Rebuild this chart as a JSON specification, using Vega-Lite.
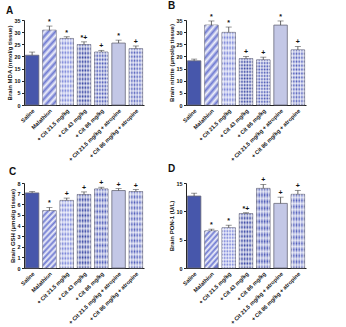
{
  "$schema": "https://vega.github.io/schema/vega-lite/v6.json",
  "padding": {"left": 6, "top": 0, "right": 2, "bottom": 0},
  "background": "white",
  "config": {
    "view": {"stroke": null},
    "font": "Liberation Sans",
    "axis": {"domainColor": "#222", "tickColor": "#222", "labelColor": "#111", "titleColor": "#111", "grid": false, "labelFontSize": 5.4, "titleFontSize": 6, "tickSize": 2.5, "labelPadding": 1.5, "titleFontWeight": "bold", "labelFontWeight": "bold"},
    "axisX": {"labelFontSize": 5.6},
    "title": {"fontSize": 10, "fontWeight": "bold", "anchor": "start", "color": "#111", "offset": 2},
    "range": {"category": ["#4757ab", "#6f7ad2", "#6f7bd6", "#2a399e", "#3f4db2", "#c3c7e6", "#4d5aba"]}
  },
  "datasets": {
    "t": [
      {"panel": "A", "group": "Saline", "mean": 20.5, "err": 1.3, "sig": ""},
      {"panel": "A", "group": "Malathion", "mean": 30.8, "err": 1.7, "sig": "*"},
      {"panel": "A", "group": "+ Cit 21.5 mg/kg", "mean": 27.4, "err": 0.7, "sig": "*"},
      {"panel": "A", "group": "+ Cit 43 mg/kg", "mean": 24.9, "err": 1.1, "sig": "*+"},
      {"panel": "A", "group": "+ Cit 86 mg/kg", "mean": 21.8, "err": 0.7, "sig": "+"},
      {"panel": "A", "group": "+ Cit 21.5 mg/kg + atropine", "mean": 25.5, "err": 1.2, "sig": "*"},
      {"panel": "A", "group": "+ Cit 86 mg/kg + atropine", "mean": 23.2, "err": 1.1, "sig": "+"},
      {"panel": "B", "group": "Saline", "mean": 18.2, "err": 0.7, "sig": ""},
      {"panel": "B", "group": "Malathion", "mean": 32.9, "err": 1.7, "sig": "*"},
      {"panel": "B", "group": "+ Cit 21.5 mg/kg", "mean": 29.9, "err": 2.2, "sig": "*"},
      {"panel": "B", "group": "+ Cit 43 mg/kg", "mean": 19.1, "err": 0.9, "sig": "+"},
      {"panel": "B", "group": "+ Cit 86 mg/kg", "mean": 18.6, "err": 1.1, "sig": "+"},
      {"panel": "B", "group": "+ Cit 21.5 mg/kg + atropine", "mean": 32.9, "err": 1.7, "sig": "*"},
      {"panel": "B", "group": "+ Cit 86 mg/kg + atropine", "mean": 22.7, "err": 1.4, "sig": "+"},
      {"panel": "C", "group": "Saline", "mean": 7.07, "err": 0.12, "sig": ""},
      {"panel": "C", "group": "Malathion", "mean": 5.4, "err": 0.3, "sig": "*"},
      {"panel": "C", "group": "+ Cit 21.5 mg/kg", "mean": 6.36, "err": 0.22, "sig": "+"},
      {"panel": "C", "group": "+ Cit 43 mg/kg", "mean": 6.92, "err": 0.24, "sig": "+"},
      {"panel": "C", "group": "+ Cit 86 mg/kg", "mean": 7.44, "err": 0.16, "sig": "+"},
      {"panel": "C", "group": "+ Cit 21.5 mg/kg + atropine", "mean": 7.29, "err": 0.19, "sig": "+"},
      {"panel": "C", "group": "+ Cit 86 mg/kg + atropine", "mean": 7.2, "err": 0.18, "sig": "+"},
      {"panel": "D", "group": "Saline", "mean": 12.7, "err": 0.5, "sig": ""},
      {"panel": "D", "group": "Malathion", "mean": 6.55, "err": 0.3, "sig": "*"},
      {"panel": "D", "group": "+ Cit 21.5 mg/kg", "mean": 7.1, "err": 0.45, "sig": "*"},
      {"panel": "D", "group": "+ Cit 43 mg/kg", "mean": 9.6, "err": 0.15, "sig": "*+"},
      {"panel": "D", "group": "+ Cit 86 mg/kg", "mean": 14.05, "err": 0.7, "sig": "+"},
      {"panel": "D", "group": "+ Cit 21.5 mg/kg + atropine", "mean": 11.4, "err": 1.1, "sig": "+"},
      {"panel": "D", "group": "+ Cit 86 mg/kg + atropine", "mean": 13.0, "err": 0.7, "sig": "+"}
    ]
  },
  "columns": 2,
  "spacing": {"row": 1, "column": 24},
  "concat": [
    {
      "title": "A",
      "width": 120, "height": 85,
      "data": {"name": "t"},
      "transform": [{"filter": "datum.panel == 'A'"}, {"calculate": "datum.mean + datum.err", "as": "hi"}],
      "encoding": {
        "x": {"field": "group", "type": "nominal", "sort": null, "title": null, "scale": {"paddingInner": 0.22, "paddingOuter": 0.08}, "axis": {"labelAngle": -45, "labelAlign": "right", "labelBaseline": "top", "tickSize": 0, "labelPadding": 3}},
        "y": {"field": "mean", "type": "quantitative", "title": "Brain MDA (nmol/g tissue)", "scale": {"domain": [0, 35]}, "axis": {"values": [0, 5, 10, 15, 20, 25, 30, 35], "titlePadding": 2}}
      },
      "layer": [
        {"mark": {"type": "bar", "stroke": "#6a6a7a", "strokeWidth": 0.8}, "encoding": {"color": {"field": "group", "type": "nominal", "sort": null, "legend": null}}},
        {"transform": [{"filter": {"field": "group", "equal": "Malathion"}}], "mark": {"type": "bar", "strokeWidth": 0, "fill": {"gradient": "linear", "x1": 0, "y1": 0, "x2": 0.24, "y2": 1.2, "stops": [
          {"offset": 0, "color": "rgba(255,255,255,0)"}, {"offset": 0.0417, "color": "rgba(255,255,255,0.9)"}, {"offset": 0.0833, "color": "rgba(255,255,255,0)"}, {"offset": 0.125, "color": "rgba(255,255,255,0.9)"},
          {"offset": 0.1667, "color": "rgba(255,255,255,0)"}, {"offset": 0.2083, "color": "rgba(255,255,255,0.9)"}, {"offset": 0.25, "color": "rgba(255,255,255,0)"}, {"offset": 0.2917, "color": "rgba(255,255,255,0.9)"},
          {"offset": 0.3333, "color": "rgba(255,255,255,0)"}, {"offset": 0.375, "color": "rgba(255,255,255,0.9)"}, {"offset": 0.4167, "color": "rgba(255,255,255,0)"}, {"offset": 0.4583, "color": "rgba(255,255,255,0.9)"},
          {"offset": 0.5, "color": "rgba(255,255,255,0)"}, {"offset": 0.5417, "color": "rgba(255,255,255,0.9)"}, {"offset": 0.5833, "color": "rgba(255,255,255,0)"}, {"offset": 0.625, "color": "rgba(255,255,255,0.9)"},
          {"offset": 0.6667, "color": "rgba(255,255,255,0)"}, {"offset": 0.7083, "color": "rgba(255,255,255,0.9)"}, {"offset": 0.75, "color": "rgba(255,255,255,0)"}, {"offset": 0.7917, "color": "rgba(255,255,255,0.9)"},
          {"offset": 0.8333, "color": "rgba(255,255,255,0)"}, {"offset": 0.875, "color": "rgba(255,255,255,0.9)"}, {"offset": 0.9167, "color": "rgba(255,255,255,0)"}, {"offset": 0.9583, "color": "rgba(255,255,255,0.9)"},
          {"offset": 1, "color": "rgba(255,255,255,0)"}]}}},
        {"transform": [{"filter": {"field": "group", "oneOf": ["+ Cit 21.5 mg/kg", "+ Cit 43 mg/kg", "+ Cit 86 mg/kg", "+ Cit 86 mg/kg + atropine"]}}], "mark": {"type": "bar", "strokeWidth": 0, "fill": {"gradient": "linear", "x1": 0, "y1": 0, "x2": 1, "y2": 0, "stops": [
          {"offset": 0, "color": "rgba(255,255,255,0)"}, {"offset": 0.1, "color": "rgba(255,255,255,0.75)"}, {"offset": 0.2, "color": "rgba(255,255,255,0)"}, {"offset": 0.3, "color": "rgba(255,255,255,0.75)"},
          {"offset": 0.4, "color": "rgba(255,255,255,0)"}, {"offset": 0.5, "color": "rgba(255,255,255,0.75)"}, {"offset": 0.6, "color": "rgba(255,255,255,0)"}, {"offset": 0.7, "color": "rgba(255,255,255,0.75)"},
          {"offset": 0.8, "color": "rgba(255,255,255,0)"}, {"offset": 0.9, "color": "rgba(255,255,255,0.75)"}, {"offset": 1, "color": "rgba(255,255,255,0)"}]}}},
        {"transform": [{"filter": {"field": "group", "oneOf": ["+ Cit 21.5 mg/kg", "+ Cit 43 mg/kg", "+ Cit 86 mg/kg", "+ Cit 86 mg/kg + atropine"]}}], "mark": {"type": "bar", "strokeWidth": 0, "fill": {"gradient": "linear", "x1": 0, "y1": 0, "x2": 0, "y2": 1, "stops": [
          {"offset": 0, "color": "rgba(255,255,255,0)"}, {"offset": 0.0357, "color": "rgba(255,255,255,0.7)"}, {"offset": 0.0714, "color": "rgba(255,255,255,0)"}, {"offset": 0.1071, "color": "rgba(255,255,255,0.7)"},
          {"offset": 0.1429, "color": "rgba(255,255,255,0)"}, {"offset": 0.1786, "color": "rgba(255,255,255,0.7)"}, {"offset": 0.2143, "color": "rgba(255,255,255,0)"}, {"offset": 0.25, "color": "rgba(255,255,255,0.7)"},
          {"offset": 0.2857, "color": "rgba(255,255,255,0)"}, {"offset": 0.3214, "color": "rgba(255,255,255,0.7)"}, {"offset": 0.3571, "color": "rgba(255,255,255,0)"}, {"offset": 0.3929, "color": "rgba(255,255,255,0.7)"},
          {"offset": 0.4286, "color": "rgba(255,255,255,0)"}, {"offset": 0.4643, "color": "rgba(255,255,255,0.7)"}, {"offset": 0.5, "color": "rgba(255,255,255,0)"}, {"offset": 0.5357, "color": "rgba(255,255,255,0.7)"},
          {"offset": 0.5714, "color": "rgba(255,255,255,0)"}, {"offset": 0.6071, "color": "rgba(255,255,255,0.7)"}, {"offset": 0.6429, "color": "rgba(255,255,255,0)"}, {"offset": 0.6786, "color": "rgba(255,255,255,0.7)"},
          {"offset": 0.7143, "color": "rgba(255,255,255,0)"}, {"offset": 0.75, "color": "rgba(255,255,255,0.7)"}, {"offset": 0.7857, "color": "rgba(255,255,255,0)"}, {"offset": 0.8214, "color": "rgba(255,255,255,0.7)"},
          {"offset": 0.8571, "color": "rgba(255,255,255,0)"}, {"offset": 0.8929, "color": "rgba(255,255,255,0.7)"}, {"offset": 0.9286, "color": "rgba(255,255,255,0)"}, {"offset": 0.9643, "color": "rgba(255,255,255,0.7)"},
          {"offset": 1, "color": "rgba(255,255,255,0)"}]}}},
        {"mark": {"type": "rule", "color": "#444", "strokeWidth": 0.8}, "encoding": {"y2": {"field": "hi"}}},
        {"mark": {"type": "tick", "color": "#444", "thickness": 0.8, "size": 6}, "encoding": {"y": {"field": "hi", "type": "quantitative"}}},
        {"mark": {"type": "text", "fontSize": 7, "fontWeight": "bold", "dy": -4, "fill": "#111"}, "encoding": {"y": {"field": "hi", "type": "quantitative"}, "text": {"field": "sig"}}}
      ]
    },
    {
      "title": "B",
      "width": 120, "height": 85,
      "data": {"name": "t"},
      "transform": [{"filter": "datum.panel == 'B'"}, {"calculate": "datum.mean + datum.err", "as": "hi"}],
      "encoding": {
        "x": {"field": "group", "type": "nominal", "sort": null, "title": null, "scale": {"paddingInner": 0.22, "paddingOuter": 0.08}, "axis": {"labelAngle": -45, "labelAlign": "right", "labelBaseline": "top", "tickSize": 0, "labelPadding": 3}},
        "y": {"field": "mean", "type": "quantitative", "title": "Brain nitrite (µmol/g tissue)", "scale": {"domain": [0, 35]}, "axis": {"values": [0, 5, 10, 15, 20, 25, 30, 35], "titlePadding": 2}}
      },
      "layer": [
        {"mark": {"type": "bar", "stroke": "#6a6a7a", "strokeWidth": 0.8}, "encoding": {"color": {"field": "group", "type": "nominal", "sort": null, "legend": null}}},
        {"transform": [{"filter": {"field": "group", "equal": "Malathion"}}], "mark": {"type": "bar", "strokeWidth": 0, "fill": {"gradient": "linear", "x1": 0, "y1": 0, "x2": 0.24, "y2": 1.2, "stops": [
          {"offset": 0, "color": "rgba(255,255,255,0)"}, {"offset": 0.0417, "color": "rgba(255,255,255,0.9)"}, {"offset": 0.0833, "color": "rgba(255,255,255,0)"}, {"offset": 0.125, "color": "rgba(255,255,255,0.9)"},
          {"offset": 0.1667, "color": "rgba(255,255,255,0)"}, {"offset": 0.2083, "color": "rgba(255,255,255,0.9)"}, {"offset": 0.25, "color": "rgba(255,255,255,0)"}, {"offset": 0.2917, "color": "rgba(255,255,255,0.9)"},
          {"offset": 0.3333, "color": "rgba(255,255,255,0)"}, {"offset": 0.375, "color": "rgba(255,255,255,0.9)"}, {"offset": 0.4167, "color": "rgba(255,255,255,0)"}, {"offset": 0.4583, "color": "rgba(255,255,255,0.9)"},
          {"offset": 0.5, "color": "rgba(255,255,255,0)"}, {"offset": 0.5417, "color": "rgba(255,255,255,0.9)"}, {"offset": 0.5833, "color": "rgba(255,255,255,0)"}, {"offset": 0.625, "color": "rgba(255,255,255,0.9)"},
          {"offset": 0.6667, "color": "rgba(255,255,255,0)"}, {"offset": 0.7083, "color": "rgba(255,255,255,0.9)"}, {"offset": 0.75, "color": "rgba(255,255,255,0)"}, {"offset": 0.7917, "color": "rgba(255,255,255,0.9)"},
          {"offset": 0.8333, "color": "rgba(255,255,255,0)"}, {"offset": 0.875, "color": "rgba(255,255,255,0.9)"}, {"offset": 0.9167, "color": "rgba(255,255,255,0)"}, {"offset": 0.9583, "color": "rgba(255,255,255,0.9)"},
          {"offset": 1, "color": "rgba(255,255,255,0)"}]}}},
        {"transform": [{"filter": {"field": "group", "oneOf": ["+ Cit 21.5 mg/kg", "+ Cit 43 mg/kg", "+ Cit 86 mg/kg", "+ Cit 86 mg/kg + atropine"]}}], "mark": {"type": "bar", "strokeWidth": 0, "fill": {"gradient": "linear", "x1": 0, "y1": 0, "x2": 1, "y2": 0, "stops": [
          {"offset": 0, "color": "rgba(255,255,255,0)"}, {"offset": 0.1, "color": "rgba(255,255,255,0.75)"}, {"offset": 0.2, "color": "rgba(255,255,255,0)"}, {"offset": 0.3, "color": "rgba(255,255,255,0.75)"},
          {"offset": 0.4, "color": "rgba(255,255,255,0)"}, {"offset": 0.5, "color": "rgba(255,255,255,0.75)"}, {"offset": 0.6, "color": "rgba(255,255,255,0)"}, {"offset": 0.7, "color": "rgba(255,255,255,0.75)"},
          {"offset": 0.8, "color": "rgba(255,255,255,0)"}, {"offset": 0.9, "color": "rgba(255,255,255,0.75)"}, {"offset": 1, "color": "rgba(255,255,255,0)"}]}}},
        {"transform": [{"filter": {"field": "group", "oneOf": ["+ Cit 21.5 mg/kg", "+ Cit 43 mg/kg", "+ Cit 86 mg/kg", "+ Cit 86 mg/kg + atropine"]}}], "mark": {"type": "bar", "strokeWidth": 0, "fill": {"gradient": "linear", "x1": 0, "y1": 0, "x2": 0, "y2": 1, "stops": [
          {"offset": 0, "color": "rgba(255,255,255,0)"}, {"offset": 0.0357, "color": "rgba(255,255,255,0.7)"}, {"offset": 0.0714, "color": "rgba(255,255,255,0)"}, {"offset": 0.1071, "color": "rgba(255,255,255,0.7)"},
          {"offset": 0.1429, "color": "rgba(255,255,255,0)"}, {"offset": 0.1786, "color": "rgba(255,255,255,0.7)"}, {"offset": 0.2143, "color": "rgba(255,255,255,0)"}, {"offset": 0.25, "color": "rgba(255,255,255,0.7)"},
          {"offset": 0.2857, "color": "rgba(255,255,255,0)"}, {"offset": 0.3214, "color": "rgba(255,255,255,0.7)"}, {"offset": 0.3571, "color": "rgba(255,255,255,0)"}, {"offset": 0.3929, "color": "rgba(255,255,255,0.7)"},
          {"offset": 0.4286, "color": "rgba(255,255,255,0)"}, {"offset": 0.4643, "color": "rgba(255,255,255,0.7)"}, {"offset": 0.5, "color": "rgba(255,255,255,0)"}, {"offset": 0.5357, "color": "rgba(255,255,255,0.7)"},
          {"offset": 0.5714, "color": "rgba(255,255,255,0)"}, {"offset": 0.6071, "color": "rgba(255,255,255,0.7)"}, {"offset": 0.6429, "color": "rgba(255,255,255,0)"}, {"offset": 0.6786, "color": "rgba(255,255,255,0.7)"},
          {"offset": 0.7143, "color": "rgba(255,255,255,0)"}, {"offset": 0.75, "color": "rgba(255,255,255,0.7)"}, {"offset": 0.7857, "color": "rgba(255,255,255,0)"}, {"offset": 0.8214, "color": "rgba(255,255,255,0.7)"},
          {"offset": 0.8571, "color": "rgba(255,255,255,0)"}, {"offset": 0.8929, "color": "rgba(255,255,255,0.7)"}, {"offset": 0.9286, "color": "rgba(255,255,255,0)"}, {"offset": 0.9643, "color": "rgba(255,255,255,0.7)"},
          {"offset": 1, "color": "rgba(255,255,255,0)"}]}}},
        {"mark": {"type": "rule", "color": "#444", "strokeWidth": 0.8}, "encoding": {"y2": {"field": "hi"}}},
        {"mark": {"type": "tick", "color": "#444", "thickness": 0.8, "size": 6}, "encoding": {"y": {"field": "hi", "type": "quantitative"}}},
        {"mark": {"type": "text", "fontSize": 7, "fontWeight": "bold", "dy": -4, "fill": "#111"}, "encoding": {"y": {"field": "hi", "type": "quantitative"}, "text": {"field": "sig"}}}
      ]
    },
    {
      "title": "C",
      "width": 120, "height": 85,
      "data": {"name": "t"},
      "transform": [{"filter": "datum.panel == 'C'"}, {"calculate": "datum.mean + datum.err", "as": "hi"}],
      "encoding": {
        "x": {"field": "group", "type": "nominal", "sort": null, "title": null, "scale": {"paddingInner": 0.22, "paddingOuter": 0.08}, "axis": {"labelAngle": -45, "labelAlign": "right", "labelBaseline": "top", "tickSize": 0, "labelPadding": 3}},
        "y": {"field": "mean", "type": "quantitative", "title": "Brain GSH (µmol/g tissue)", "scale": {"domain": [0, 8]}, "axis": {"values": [0, 1, 2, 3, 4, 5, 6, 7, 8], "titlePadding": 2}}
      },
      "layer": [
        {"mark": {"type": "bar", "stroke": "#6a6a7a", "strokeWidth": 0.8}, "encoding": {"color": {"field": "group", "type": "nominal", "sort": null, "legend": null}}},
        {"transform": [{"filter": {"field": "group", "equal": "Malathion"}}], "mark": {"type": "bar", "strokeWidth": 0, "fill": {"gradient": "linear", "x1": 0, "y1": 0, "x2": 0.3, "y2": 1.2, "stops": [
          {"offset": 0, "color": "rgba(255,255,255,0)"}, {"offset": 0.0417, "color": "rgba(255,255,255,0.9)"}, {"offset": 0.0833, "color": "rgba(255,255,255,0)"}, {"offset": 0.125, "color": "rgba(255,255,255,0.9)"},
          {"offset": 0.1667, "color": "rgba(255,255,255,0)"}, {"offset": 0.2083, "color": "rgba(255,255,255,0.9)"}, {"offset": 0.25, "color": "rgba(255,255,255,0)"}, {"offset": 0.2917, "color": "rgba(255,255,255,0.9)"},
          {"offset": 0.3333, "color": "rgba(255,255,255,0)"}, {"offset": 0.375, "color": "rgba(255,255,255,0.9)"}, {"offset": 0.4167, "color": "rgba(255,255,255,0)"}, {"offset": 0.4583, "color": "rgba(255,255,255,0.9)"},
          {"offset": 0.5, "color": "rgba(255,255,255,0)"}, {"offset": 0.5417, "color": "rgba(255,255,255,0.9)"}, {"offset": 0.5833, "color": "rgba(255,255,255,0)"}, {"offset": 0.625, "color": "rgba(255,255,255,0.9)"},
          {"offset": 0.6667, "color": "rgba(255,255,255,0)"}, {"offset": 0.7083, "color": "rgba(255,255,255,0.9)"}, {"offset": 0.75, "color": "rgba(255,255,255,0)"}, {"offset": 0.7917, "color": "rgba(255,255,255,0.9)"},
          {"offset": 0.8333, "color": "rgba(255,255,255,0)"}, {"offset": 0.875, "color": "rgba(255,255,255,0.9)"}, {"offset": 0.9167, "color": "rgba(255,255,255,0)"}, {"offset": 0.9583, "color": "rgba(255,255,255,0.9)"},
          {"offset": 1, "color": "rgba(255,255,255,0)"}]}}},
        {"transform": [{"filter": {"field": "group", "oneOf": ["+ Cit 21.5 mg/kg", "+ Cit 43 mg/kg", "+ Cit 86 mg/kg", "+ Cit 86 mg/kg + atropine"]}}], "mark": {"type": "bar", "strokeWidth": 0, "fill": {"gradient": "linear", "x1": 0, "y1": 0, "x2": 1, "y2": 0, "stops": [
          {"offset": 0, "color": "rgba(255,255,255,0)"}, {"offset": 0.1, "color": "rgba(255,255,255,0.75)"}, {"offset": 0.2, "color": "rgba(255,255,255,0)"}, {"offset": 0.3, "color": "rgba(255,255,255,0.75)"},
          {"offset": 0.4, "color": "rgba(255,255,255,0)"}, {"offset": 0.5, "color": "rgba(255,255,255,0.75)"}, {"offset": 0.6, "color": "rgba(255,255,255,0)"}, {"offset": 0.7, "color": "rgba(255,255,255,0.75)"},
          {"offset": 0.8, "color": "rgba(255,255,255,0)"}, {"offset": 0.9, "color": "rgba(255,255,255,0.75)"}, {"offset": 1, "color": "rgba(255,255,255,0)"}]}}},
        {"transform": [{"filter": {"field": "group", "oneOf": ["+ Cit 21.5 mg/kg", "+ Cit 43 mg/kg", "+ Cit 86 mg/kg", "+ Cit 86 mg/kg + atropine"]}}], "mark": {"type": "bar", "strokeWidth": 0, "fill": {"gradient": "linear", "x1": 0, "y1": 0, "x2": 0, "y2": 1, "stops": [
          {"offset": 0, "color": "rgba(255,255,255,0)"}, {"offset": 0.0357, "color": "rgba(255,255,255,0.7)"}, {"offset": 0.0714, "color": "rgba(255,255,255,0)"}, {"offset": 0.1071, "color": "rgba(255,255,255,0.7)"},
          {"offset": 0.1429, "color": "rgba(255,255,255,0)"}, {"offset": 0.1786, "color": "rgba(255,255,255,0.7)"}, {"offset": 0.2143, "color": "rgba(255,255,255,0)"}, {"offset": 0.25, "color": "rgba(255,255,255,0.7)"},
          {"offset": 0.2857, "color": "rgba(255,255,255,0)"}, {"offset": 0.3214, "color": "rgba(255,255,255,0.7)"}, {"offset": 0.3571, "color": "rgba(255,255,255,0)"}, {"offset": 0.3929, "color": "rgba(255,255,255,0.7)"},
          {"offset": 0.4286, "color": "rgba(255,255,255,0)"}, {"offset": 0.4643, "color": "rgba(255,255,255,0.7)"}, {"offset": 0.5, "color": "rgba(255,255,255,0)"}, {"offset": 0.5357, "color": "rgba(255,255,255,0.7)"},
          {"offset": 0.5714, "color": "rgba(255,255,255,0)"}, {"offset": 0.6071, "color": "rgba(255,255,255,0.7)"}, {"offset": 0.6429, "color": "rgba(255,255,255,0)"}, {"offset": 0.6786, "color": "rgba(255,255,255,0.7)"},
          {"offset": 0.7143, "color": "rgba(255,255,255,0)"}, {"offset": 0.75, "color": "rgba(255,255,255,0.7)"}, {"offset": 0.7857, "color": "rgba(255,255,255,0)"}, {"offset": 0.8214, "color": "rgba(255,255,255,0.7)"},
          {"offset": 0.8571, "color": "rgba(255,255,255,0)"}, {"offset": 0.8929, "color": "rgba(255,255,255,0.7)"}, {"offset": 0.9286, "color": "rgba(255,255,255,0)"}, {"offset": 0.9643, "color": "rgba(255,255,255,0.7)"},
          {"offset": 1, "color": "rgba(255,255,255,0)"}]}}},
        {"mark": {"type": "rule", "color": "#444", "strokeWidth": 0.8}, "encoding": {"y2": {"field": "hi"}}},
        {"mark": {"type": "tick", "color": "#444", "thickness": 0.8, "size": 6}, "encoding": {"y": {"field": "hi", "type": "quantitative"}}},
        {"mark": {"type": "text", "fontSize": 7, "fontWeight": "bold", "dy": -4, "fill": "#111"}, "encoding": {"y": {"field": "hi", "type": "quantitative"}, "text": {"field": "sig"}}}
      ]
    },
    {
      "title": "D",
      "width": 120, "height": 85,
      "data": {"name": "t"},
      "transform": [{"filter": "datum.panel == 'D'"}, {"calculate": "datum.mean + datum.err", "as": "hi"}],
      "encoding": {
        "x": {"field": "group", "type": "nominal", "sort": null, "title": null, "scale": {"paddingInner": 0.22, "paddingOuter": 0.08}, "axis": {"labelAngle": -45, "labelAlign": "right", "labelBaseline": "top", "tickSize": 0, "labelPadding": 3}},
        "y": {"field": "mean", "type": "quantitative", "title": "Brain PON-1 (U/L)", "scale": {"domain": [0, 15]}, "axis": {"values": [0, 5, 10, 15], "titlePadding": 2}}
      },
      "layer": [
        {"mark": {"type": "bar", "stroke": "#6a6a7a", "strokeWidth": 0.8}, "encoding": {"color": {"field": "group", "type": "nominal", "sort": null, "legend": null}}},
        {"transform": [{"filter": {"field": "group", "equal": "Malathion"}}], "mark": {"type": "bar", "strokeWidth": 0, "fill": {"gradient": "linear", "x1": 0, "y1": 0, "x2": 0.45, "y2": 1.1, "stops": [
          {"offset": 0, "color": "rgba(255,255,255,0)"}, {"offset": 0.0625, "color": "rgba(255,255,255,0.9)"}, {"offset": 0.125, "color": "rgba(255,255,255,0)"}, {"offset": 0.1875, "color": "rgba(255,255,255,0.9)"},
          {"offset": 0.25, "color": "rgba(255,255,255,0)"}, {"offset": 0.3125, "color": "rgba(255,255,255,0.9)"}, {"offset": 0.375, "color": "rgba(255,255,255,0)"}, {"offset": 0.4375, "color": "rgba(255,255,255,0.9)"},
          {"offset": 0.5, "color": "rgba(255,255,255,0)"}, {"offset": 0.5625, "color": "rgba(255,255,255,0.9)"}, {"offset": 0.625, "color": "rgba(255,255,255,0)"}, {"offset": 0.6875, "color": "rgba(255,255,255,0.9)"},
          {"offset": 0.75, "color": "rgba(255,255,255,0)"}, {"offset": 0.8125, "color": "rgba(255,255,255,0.9)"}, {"offset": 0.875, "color": "rgba(255,255,255,0)"}, {"offset": 0.9375, "color": "rgba(255,255,255,0.9)"},
          {"offset": 1, "color": "rgba(255,255,255,0)"}]}}},
        {"transform": [{"filter": {"field": "group", "oneOf": ["+ Cit 21.5 mg/kg", "+ Cit 43 mg/kg", "+ Cit 86 mg/kg", "+ Cit 86 mg/kg + atropine"]}}], "mark": {"type": "bar", "strokeWidth": 0, "fill": {"gradient": "linear", "x1": 0, "y1": 0, "x2": 1, "y2": 0, "stops": [
          {"offset": 0, "color": "rgba(255,255,255,0)"}, {"offset": 0.1, "color": "rgba(255,255,255,0.75)"}, {"offset": 0.2, "color": "rgba(255,255,255,0)"}, {"offset": 0.3, "color": "rgba(255,255,255,0.75)"},
          {"offset": 0.4, "color": "rgba(255,255,255,0)"}, {"offset": 0.5, "color": "rgba(255,255,255,0.75)"}, {"offset": 0.6, "color": "rgba(255,255,255,0)"}, {"offset": 0.7, "color": "rgba(255,255,255,0.75)"},
          {"offset": 0.8, "color": "rgba(255,255,255,0)"}, {"offset": 0.9, "color": "rgba(255,255,255,0.75)"}, {"offset": 1, "color": "rgba(255,255,255,0)"}]}}},
        {"transform": [{"filter": {"field": "group", "oneOf": ["+ Cit 21.5 mg/kg", "+ Cit 43 mg/kg", "+ Cit 86 mg/kg", "+ Cit 86 mg/kg + atropine"]}}], "mark": {"type": "bar", "strokeWidth": 0, "fill": {"gradient": "linear", "x1": 0, "y1": 0, "x2": 0, "y2": 1, "stops": [
          {"offset": 0, "color": "rgba(255,255,255,0)"}, {"offset": 0.0417, "color": "rgba(255,255,255,0.7)"}, {"offset": 0.0833, "color": "rgba(255,255,255,0)"}, {"offset": 0.125, "color": "rgba(255,255,255,0.7)"},
          {"offset": 0.1667, "color": "rgba(255,255,255,0)"}, {"offset": 0.2083, "color": "rgba(255,255,255,0.7)"}, {"offset": 0.25, "color": "rgba(255,255,255,0)"}, {"offset": 0.2917, "color": "rgba(255,255,255,0.7)"},
          {"offset": 0.3333, "color": "rgba(255,255,255,0)"}, {"offset": 0.375, "color": "rgba(255,255,255,0.7)"}, {"offset": 0.4167, "color": "rgba(255,255,255,0)"}, {"offset": 0.4583, "color": "rgba(255,255,255,0.7)"},
          {"offset": 0.5, "color": "rgba(255,255,255,0)"}, {"offset": 0.5417, "color": "rgba(255,255,255,0.7)"}, {"offset": 0.5833, "color": "rgba(255,255,255,0)"}, {"offset": 0.625, "color": "rgba(255,255,255,0.7)"},
          {"offset": 0.6667, "color": "rgba(255,255,255,0)"}, {"offset": 0.7083, "color": "rgba(255,255,255,0.7)"}, {"offset": 0.75, "color": "rgba(255,255,255,0)"}, {"offset": 0.7917, "color": "rgba(255,255,255,0.7)"},
          {"offset": 0.8333, "color": "rgba(255,255,255,0)"}, {"offset": 0.875, "color": "rgba(255,255,255,0.7)"}, {"offset": 0.9167, "color": "rgba(255,255,255,0)"}, {"offset": 0.9583, "color": "rgba(255,255,255,0.7)"},
          {"offset": 1, "color": "rgba(255,255,255,0)"}]}}},
        {"mark": {"type": "rule", "color": "#444", "strokeWidth": 0.8}, "encoding": {"y2": {"field": "hi"}}},
        {"mark": {"type": "tick", "color": "#444", "thickness": 0.8, "size": 6}, "encoding": {"y": {"field": "hi", "type": "quantitative"}}},
        {"mark": {"type": "text", "fontSize": 7, "fontWeight": "bold", "dy": -4, "fill": "#111"}, "encoding": {"y": {"field": "hi", "type": "quantitative"}, "text": {"field": "sig"}}}
      ]
    }
  ]
}
